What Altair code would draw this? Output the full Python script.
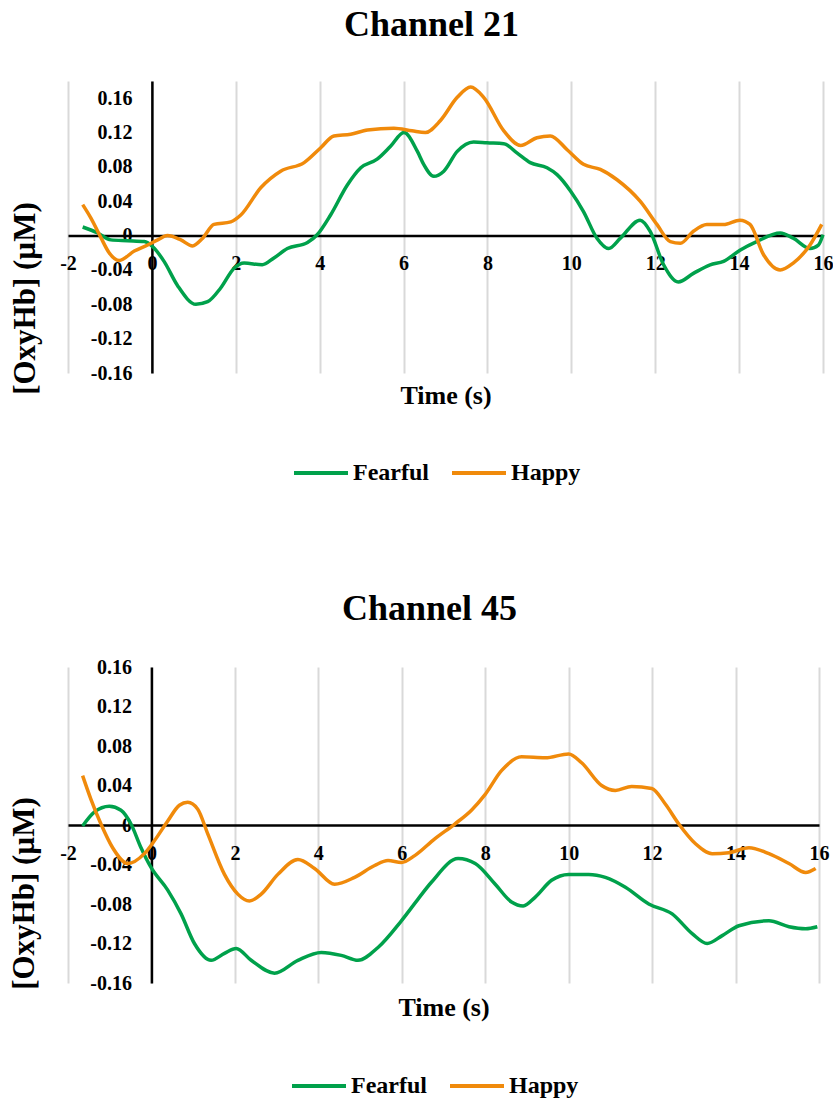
import altair as alt
import pandas as pd

FONT = "Liberation Serif"
GREEN = "#00A14B"
ORANGE = "#F08A0B"
SERIES = ["Fearful", "Happy"]

x_ticks = [-2, 0, 2, 4, 6, 8, 10, 12, 14, 16]
y_ticks = [-0.16, -0.12, -0.08, -0.04, 0, 0.04, 0.08, 0.12, 0.16]

# ---- Channel 21 ----
ch21_fearful_t = [-1.65, -1.29, -0.98, -0.58, -0.18, 0.02, 0.29, 0.61, 1.05, 1.33, 1.64, 1.96, 2.20, 2.63,
                  2.91, 3.23, 3.71, 3.94, 4.26, 4.66, 4.98, 5.37, 5.69, 6.01, 6.33, 6.48, 6.72, 6.96, 7.28,
                  7.67, 7.99, 8.39, 8.71, 9.02, 9.42, 9.66, 9.98, 10.29, 10.61, 10.89, 11.17, 11.64, 11.88,
                  12.20, 12.55, 12.91, 13.31, 13.63, 14.02, 14.42, 14.98, 15.29, 15.69, 15.89, 16.0]
ch21_fearful_v = [0.010, 0.003, -0.005, -0.006, -0.007, -0.013, -0.030, -0.058, -0.080, -0.077, -0.061,
                  -0.038, -0.032, -0.034, -0.026, -0.015, -0.008, 0.001, 0.024, 0.059, 0.079, 0.089, 0.104,
                  0.120, 0.098, 0.083, 0.069, 0.075, 0.098, 0.109, 0.108, 0.107, 0.096, 0.085, 0.079, 0.071,
                  0.052, 0.028, -0.003, -0.015, -0.003, 0.018, 0.005, -0.034, -0.054, -0.044, -0.034, -0.030,
                  -0.017, -0.007, 0.003, -0.003, -0.015, -0.011, 0.001]
ch21_happy_t = [-1.65, -1.45, -1.21, -1.02, -0.78, -0.42, -0.10, 0.14, 0.37, 0.69, 0.97, 1.21, 1.48, 1.88,
                2.12, 2.60, 3.07, 3.63, 4.02, 4.34, 4.74, 5.14, 5.77, 6.20, 6.52, 6.88, 7.28, 7.60, 7.91,
                8.39, 8.79, 9.18, 9.50, 9.90, 10.29, 10.69, 11.09, 11.64, 12.04, 12.36, 12.60, 12.91, 13.23,
                13.63, 14.02, 14.26, 14.58, 14.98, 15.29, 15.69, 15.97]
ch21_happy_v = [0.036, 0.020, -0.003, -0.020, -0.029, -0.018, -0.011, -0.005, 0.000, -0.005, -0.012, -0.003,
                0.013, 0.016, 0.024, 0.056, 0.075, 0.085, 0.102, 0.116, 0.118, 0.123, 0.125, 0.122, 0.120,
                0.134, 0.161, 0.173, 0.161, 0.122, 0.105, 0.114, 0.116, 0.100, 0.083, 0.077, 0.065, 0.040,
                0.013, -0.007, -0.009, 0.005, 0.013, 0.013, 0.018, 0.013, -0.022, -0.040, -0.032, -0.011, 0.013]

# ---- Channel 45 ----
ch45_fearful_t = [-1.65, -1.37, -1.01, -0.73, -0.49, -0.25, -0.01, 0.39, 0.71, 1.03, 1.43, 1.75, 2.03, 2.39,
                  2.95, 3.51, 4.07, 4.55, 4.95, 5.43, 5.99, 6.39, 6.71, 7.35, 7.76, 8.24, 8.63, 8.91, 9.20,
                  9.59, 10.00, 10.48, 10.88, 11.36, 11.92, 12.48, 12.96, 13.32, 13.68, 14.08, 14.80, 15.28,
                  15.68, 15.96]
ch45_fearful_v = [-0.001, 0.013, 0.019, 0.015, 0.001, -0.023, -0.043, -0.066, -0.090, -0.120, -0.137, -0.130,
                  -0.125, -0.137, -0.150, -0.137, -0.129, -0.132, -0.137, -0.124, -0.097, -0.075, -0.058,
                  -0.034, -0.039, -0.060, -0.078, -0.082, -0.073, -0.056, -0.050, -0.050, -0.053, -0.063,
                  -0.080, -0.090, -0.110, -0.120, -0.112, -0.102, -0.097, -0.103, -0.105, -0.103]
ch45_happy_t = [-1.65, -1.45, -1.21, -0.93, -0.57, -0.17, 0.07, 0.39, 0.67, 0.87, 1.11, 1.35, 1.75, 2.07,
                2.35, 2.63, 3.03, 3.51, 3.91, 4.39, 4.87, 5.35, 5.67, 5.99, 6.31, 6.79, 7.27, 7.67, 8.00,
                8.39, 8.87, 9.44, 10.00, 10.31, 10.79, 11.12, 11.51, 11.99, 12.32, 12.64, 13.04, 13.44,
                13.84, 14.32, 14.80, 15.28, 15.68, 15.92]
ch45_happy_v = [0.050, 0.026, 0.001, -0.023, -0.039, -0.029, -0.016, 0.004, 0.020, 0.023, 0.016, -0.009,
                -0.050, -0.070, -0.077, -0.070, -0.050, -0.035, -0.044, -0.060, -0.053, -0.041, -0.036,
                -0.038, -0.031, -0.014, 0.001, 0.015, 0.031, 0.055, 0.069, 0.068, 0.072, 0.063, 0.040,
                0.035, 0.039, 0.037, 0.021, 0.001, -0.019, -0.029, -0.028, -0.023, -0.029, -0.039, -0.048,
                -0.044]

for a, b in [(ch21_fearful_t, ch21_fearful_v), (ch21_happy_t, ch21_happy_v),
             (ch45_fearful_t, ch45_fearful_v), (ch45_happy_t, ch45_happy_v)]:
    assert len(a) == len(b), (len(a), len(b))


def frame(ft, fv, ht, hv):
    rows = [{"t": t, "v": v, "series": "Fearful", "o": i} for i, (t, v) in enumerate(zip(ft, fv))]
    rows += [{"t": t, "v": v, "series": "Happy", "o": i} for i, (t, v) in enumerate(zip(ht, hv))]
    return pd.DataFrame(rows)


X_LABEL = "replace(format(datum.value, 'd'), '\u2212', '-')"
Y_LABEL = "abs(datum.value) < 1e-9 ? '0' : replace(format(datum.value, '.2f'), '\u2212', '-')"


def panel(df, title, title_offset, ymin, ymax, width, height, x_title_y, y_title_x, y_title_y,
          leg_x, leg_y):
    zero_from_left = (0 - (-2)) / 18 * width
    zero_from_bottom = (0 - ymin) / (ymax - ymin) * height
    x = alt.X(
        "t:Q",
        scale=alt.Scale(domain=[-2, 16], nice=False, zero=False),
        axis=alt.Axis(
            values=x_ticks, grid=True, gridColor="#d9d9d9", gridWidth=2,
            domain=True, domainColor="black", domainWidth=2.5, ticks=False,
            labelFont=FONT, labelFontWeight="bold", labelFontSize=20, labelColor="black",
            labelPadding=18, labelExpr=X_LABEL, labelOverlap=False, labelFlush=False, labelBound=False,
            offset=-zero_from_bottom,
            title="Time (s)", titleFont=FONT, titleFontWeight="bold", titleFontSize=26,
            titleColor="black", titleY=x_title_y, titleBaseline="middle",
        ),
    )
    y = alt.Y(
        "v:Q",
        scale=alt.Scale(domain=[ymin, ymax], nice=False, zero=False),
        axis=alt.Axis(
            values=y_ticks, grid=False,
            domain=True, domainColor="black", domainWidth=2.5, ticks=False,
            labelFont=FONT, labelFontWeight="bold", labelFontSize=20, labelColor="black",
            labelPadding=20, labelExpr=Y_LABEL, labelOverlap=False, labelFlush=False, labelBound=False,
            offset=-zero_from_left,
            title="[OxyHb] (µM)", titleFont=FONT, titleFontWeight="bold", titleFontSize=31,
            titleColor="black", titleX=y_title_x, titleY=y_title_y, titleBaseline="middle",
            titleAlign="center", titleAngle=270,
        ),
    )
    color = alt.Color(
        "series:N",
        scale=alt.Scale(domain=SERIES, range=[GREEN, ORANGE]),
        legend=alt.Legend(
            orient="none", legendX=leg_x, legendY=leg_y, direction="horizontal", title=None,
            symbolType="stroke", symbolSize=2916, symbolStrokeWidth=4,
            labelFont=FONT, labelFontWeight="bold", labelFontSize=24, labelColor="black",
            labelOffset=3, columnPadding=15,
        ),
    )
    return alt.Chart(df).mark_line(strokeWidth=3.5, interpolate="monotone").encode(
        x=x, y=y, color=color, order="o:Q"
    ).properties(
        width=width, height=height,
        title=alt.TitleParams(text=title, font=FONT, fontSize=36, fontWeight="bold", color="black",
                              anchor="middle", dx=-14, offset=title_offset),
    )


p1 = panel(frame(ch21_fearful_t, ch21_fearful_v, ch21_happy_t, ch21_happy_v), "Channel 21", 36,
           -0.16, 0.18, 755, 292, 160, -126, 217, 224, 363)
p2 = panel(frame(ch45_fearful_t, ch45_fearful_v, ch45_happy_t, ch45_happy_v), "Channel 45", 29,
           -0.16, 0.16, 751, 316, 182, -127, 226, 222, 390)

chart = alt.vconcat(p1, p2, spacing=294, bounds="flush").resolve_scale(
    color="independent", x="independent", y="independent"
).properties(
    padding={"left": 8, "top": 7, "right": 0, "bottom": 0}
).configure_view(stroke=None)

chart.save("out.html", embed_options={"renderer": "svg", "actions": False})
